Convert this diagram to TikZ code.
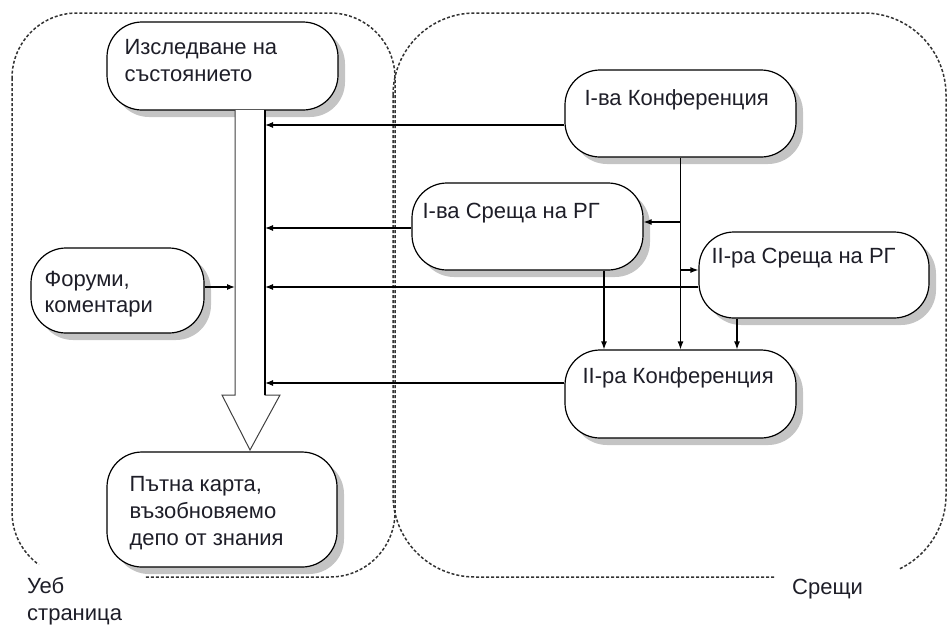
\documentclass[tikz,border=0pt]{standalone}
\usepackage{fontspec}
\setmainfont{Liberation Sans}
\usetikzlibrary{arrows.meta,shadows}
\definecolor{shadowgray}{HTML}{C4C4C4}
\definecolor{txtcol}{HTML}{1E1E28}
\definecolor{zonecol}{HTML}{333333}
\begin{document}
\begin{tikzpicture}[x=1pt,y=-1pt,
  box/.style={draw=black, line width=1.2pt, rounded corners=35pt, fill=white, inner sep=0pt,
    drop shadow={shadow xshift=7pt, shadow yshift=-7pt, fill=shadowgray, opacity=1}},
  txt/.style={anchor=base west, inner sep=0pt, text=txtcol, font=\fontsize{22}{26}\selectfont},
  conn/.style={line width=1.2pt, draw=black},
  tip/.style={-{Latex[length=8pt,width=6pt]}},
  zone/.style={draw=zonecol, line width=1.5pt, dash pattern=on 3pt off 2pt},
]
\useasboundingbox (0,0) rectangle (949,625);

% containers (with gaps at the bottom)
\begin{scope}
\clip (0,0) -- (949,0) -- (949,625) -- (899,625) -- (899,560) -- (774,560) -- (774,625)
      -- (145,625) -- (145,564) -- (38,564) -- (38,625) -- (0,625) -- cycle;
\draw[zone, rounded corners=65pt] (12,13) rectangle (395,577);
\draw[zone, rounded corners=82pt] (393,13) rectangle (946,577);
\end{scope}

% boxes
\node[box, minimum width=231pt, minimum height=88pt] (research) at (222.5,66) {};
\node[box, minimum width=173pt, minimum height=85pt] (forum) at (117.5,290.5) {};
\node[box, minimum width=230pt, minimum height=115pt] (road) at (222,509.5) {};
\node[box, minimum width=231pt, minimum height=87pt] (conf1) at (680.5,113.5) {};
\node[box, minimum width=231pt, minimum height=87pt] (meet1) at (527.5,226.5) {};
\node[box, minimum width=230pt, minimum height=86pt] (meet2) at (814,275) {};
\node[box, minimum width=231pt, minimum height=88pt] (conf2) at (680.5,394) {};

% big arrow
\draw[fill=white, draw=black!75, line width=1pt]
  (235,110) -- (235,395) -- (222,395) -- (250,450) -- (280,395) -- (265,395) -- (265,110);
\coordinate (busTop) at (265,110);
\coordinate (busBot) at (265,395);
\draw[line width=2pt] (busTop) -- (busBot);

% bus points
\coordinate (b1) at (265,125);
\coordinate (b2) at (265,228);
\coordinate (b3) at (265,287);
\coordinate (b4) at (265,383);
\coordinate (f1) at (235,287);
\draw[conn,tip] (conf1.west |- b1) -- (b1);
\draw[conn,tip] (meet1.west |- b2) -- (b2);
\draw[conn,tip] (meet2.west |- b3) -- (b3);
\draw[conn,tip] (conf2.west |- b4) -- (b4);
\draw[conn,tip] (forum.east |- f1) -- (f1);

% meetings flow
\draw[conn,tip] (conf1.south) -- (conf2.north);
\coordinate (v1) at (680.5,222);
\coordinate (v2) at (680.5,270);
\draw[conn,tip] (v1) -- (meet1.east |- v1);
\draw[conn,tip] (v2) -- (meet2.west |- v2);
\coordinate (d1) at (604,0);
\coordinate (d2) at (737,0);
\draw[conn,tip] (meet1.south -| d1) -- (conf2.north -| d1);
\draw[conn,tip] (meet2.south -| d2) -- (conf2.north -| d2);

% texts
\node[txt] (tR1) at ([shift={(18,33)}]research.north west) {Изследване на};
\node[txt] (tR2) at ([shift={(18,60)}]research.north west) {състоянието};
\node[txt] (tF1) at ([shift={(14,39)}]forum.north west) {Форуми,};
\node[txt] (tF2) at ([shift={(14,65)}]forum.north west) {коментари};
\node[txt] (tP1) at ([shift={(23,40)}]road.north west) {Пътна карта,};
\node[txt] (tP2) at ([shift={(23,67)}]road.north west) {възобновяемо};
\node[txt] (tP3) at ([shift={(23,94)}]road.north west) {депо от знания};
\node[txt] (tC1) at ([shift={(20,36)}]conf1.north west) {I-ва Конференция};
\node[txt] (tM1) at ([shift={(11,36)}]meet1.north west) {I-ва Среща на РГ};
\node[txt] (tM2) at ([shift={(13,32)}]meet2.north west) {II-ра Среща на РГ};
\node[txt] (tC2) at ([shift={(18,34)}]conf2.north west) {II-ра Конференция};
\node[txt] (tW1) at (27,593) {Уеб};
\node[txt] (tW2) at (27,620) {страница};
\node[txt] (tS) at (792,594) {Срещи};
\end{tikzpicture}
\end{document}
